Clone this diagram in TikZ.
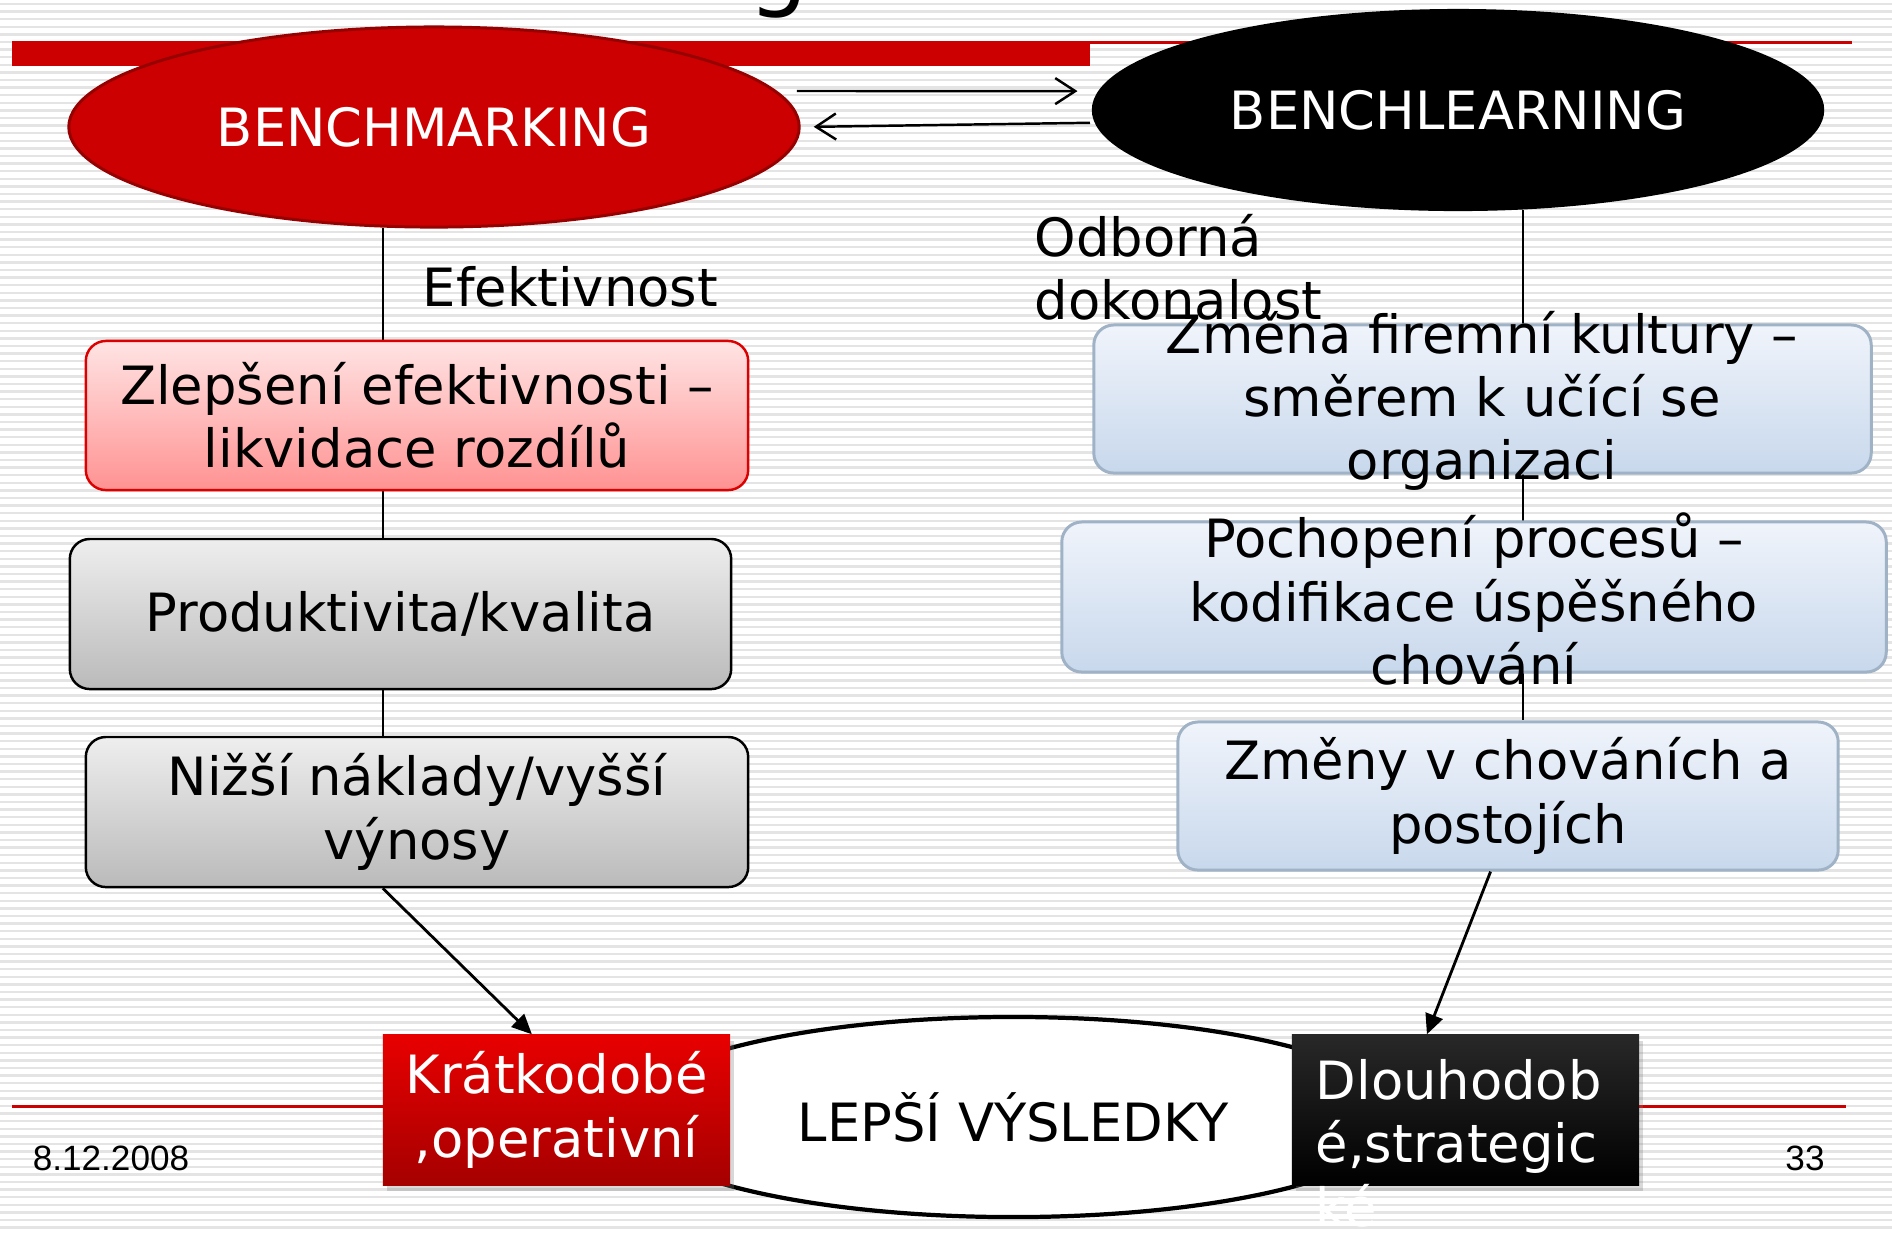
\documentclass[tikz,border=0pt]{standalone}
\usepackage{fontspec}
\setmainfont{DejaVu Sans}
\newfontfamily\footfont{Liberation Sans}
\usetikzlibrary{shapes.geometric,arrows.meta,shadows}
\pgfdeclarelayer{stripes}
\pgfdeclarelayer{links}
\pgfsetlayers{stripes,links,main}
\definecolor{slidered}{RGB}{204,0,0}
\definecolor{darkred}{RGB}{150,0,0}
\definecolor{pinktop}{RGB}{255,228,228}
\definecolor{pinkbot}{RGB}{255,146,146}
\definecolor{pinkline}{RGB}{221,0,0}
\definecolor{greytop}{RGB}{238,238,238}
\definecolor{greybot}{RGB}{186,186,186}
\definecolor{bluetop}{RGB}{240,244,251}
\definecolor{bluebot}{RGB}{200,216,236}
\definecolor{blueline}{RGB}{160,178,198}
\definecolor{stripegrey}{RGB}{228,228,228}
\tikzset{txt/.style={font=\fontsize{15}{18}\selectfont, align=center, inner sep=0pt},
oval/.style={ellipse, txt, minimum width=7.3cm, minimum height=2cm},
box/.style={rectangle, rounded corners=2mm, txt, line width=0.7pt},
pinkbox/.style={box, draw=pinkline, top color=pinktop, bottom color=pinkbot},
greybox/.style={box, draw=black, top color=greytop, bottom color=greybot},
bluebox/.style={box, draw=blueline, line width=0.85pt, top color=bluetop, bottom color=bluebot},
glossbox/.style={rectangle, txt, text=white, minimum width=3.47cm, minimum height=1.5cm,
drop shadow={shadow xshift=0.4mm, shadow yshift=-0.6mm, opacity=0.3}},
link/.style={line width=0.6pt},
tip/.style={line width=0.8pt, -{Triangle[length=2mm,width=1.8mm]}},
barb/.style={line width=0.7pt, -{Straight Barb[length=2mm,width=2.6mm]}},
stripe/.style={stripegrey, line width=0.7pt},
foot/.style={font=\footfont\fontsize{10}{12}\selectfont, inner sep=0pt}}
\begin{document}
\begin{tikzpicture}[x=0.01cm, y=-0.01cm]
    \useasboundingbox (0,0) rectangle (1892,1232);
    \begin{pgfonlayer}{stripes}
        \foreach \y in {4,11.6,...,1232}
            \draw[stripe] (0,\y) -- (1892,\y);
        % slide template
        \fill[slidered] (12,41) rectangle (1090,66);
        \fill[slidered] (1090,41) rectangle (1852,44);
        \draw[slidered, line width=0.85pt] (12,1106) -- (1846,1106);
    \end{pgfonlayer}
    \node[font=\fontsize{27}{30}\selectfont, anchor=base west, inner sep=0pt] (ttl) at (748,-2) {g};

    \node[oval, fill=slidered, draw=darkred, line width=0.85pt, text=white] (bm) at (434,127) {BENCHMARKING};
    \node[oval, fill=black, minimum width=7.32cm, minimum height=2.02cm, text=white] (bl) at (1458,110) {BENCHLEARNING};

    \node[txt, anchor=west] (eff) at (422,287) {Efektivnost};
    \node[txt, anchor=west, align=left] (odb) at (1034,267) {Odborná\\dokonalost};

    \node[pinkbox, minimum width=6.62cm, minimum height=1.49cm] (zl) at (417,415.5) {Zlepšení efektivnosti –\\likvidace rozdílů};
    \node[greybox, minimum width=6.61cm, minimum height=1.5cm] (pk) at (400.5,614) {Produktivita/kvalita};
    \node[greybox, minimum width=6.62cm, minimum height=1.5cm] (nk) at (417,812) {Nižší náklady/vyšší\\výnosy};

    \node[bluebox, minimum width=7.77cm, minimum height=1.48cm] (zm) at (1482.5,399) {};
    \node[txt] (zmtxt) at (1482,401) {Změna firemní kultury –\\směrem k učící se\\organizaci};
    \node[bluebox, minimum width=8.24cm, minimum height=1.5cm] (po) at (1474,597) {};
    \node[txt] (potxt) at (1474,599) {Pochopení procesů –\\kodifikace úspěšného\\chování};
    \node[bluebox, minimum width=6.6cm, minimum height=1.48cm] (ch) at (1508,796) {Změny v chováních a\\postojích};

    \node[ellipse, txt, draw=black, line width=1.2pt, fill=white, minimum width=7.8cm, minimum height=2cm] (res) at (1013,1117) {LEPŠÍ VÝSLEDKY};
    \node[glossbox, top color={rgb,255:red,232;green,0;blue,0}, bottom color={rgb,255:red,165;green,0;blue,0}] (kr) at (556.5,1110) {Krátkodobé\\,operativní};
    \node[glossbox, top color={rgb,255:red,40;green,40;blue,40}, bottom color=black] (dl) at (1465.5,1110) {};
    \node[txt, text=white, anchor=west, align=left] (dltxt) at (1315,1143) {Dlouhodob\\é,strategic\\ké};

    \node[foot] (date) at (111,1158) {8.12.2008};
    \node[foot] (pg) at (1805,1158) {33};

    \begin{pgfonlayer}{links}
        \draw[link] (bm.243.2) -- (bm.243.2 |- nk.south);
        \draw[link] (bl.303.6) -- (bl.303.6 |- ch.north);
    \end{pgfonlayer}
    \draw[tip] (bm.243.2 |- nk.south) -- (kr.108.8);
    \draw[tip] (ch.257) -- (dl.117.2);
    \draw[barb, shorten <=2mm, shorten >=2mm] (bm.6) -- (bl.177);
    \draw[barb, shorten <=0.4mm, shorten >=1.3mm] (bl.182) -- (bm.0);
\end{tikzpicture}
\end{document}
